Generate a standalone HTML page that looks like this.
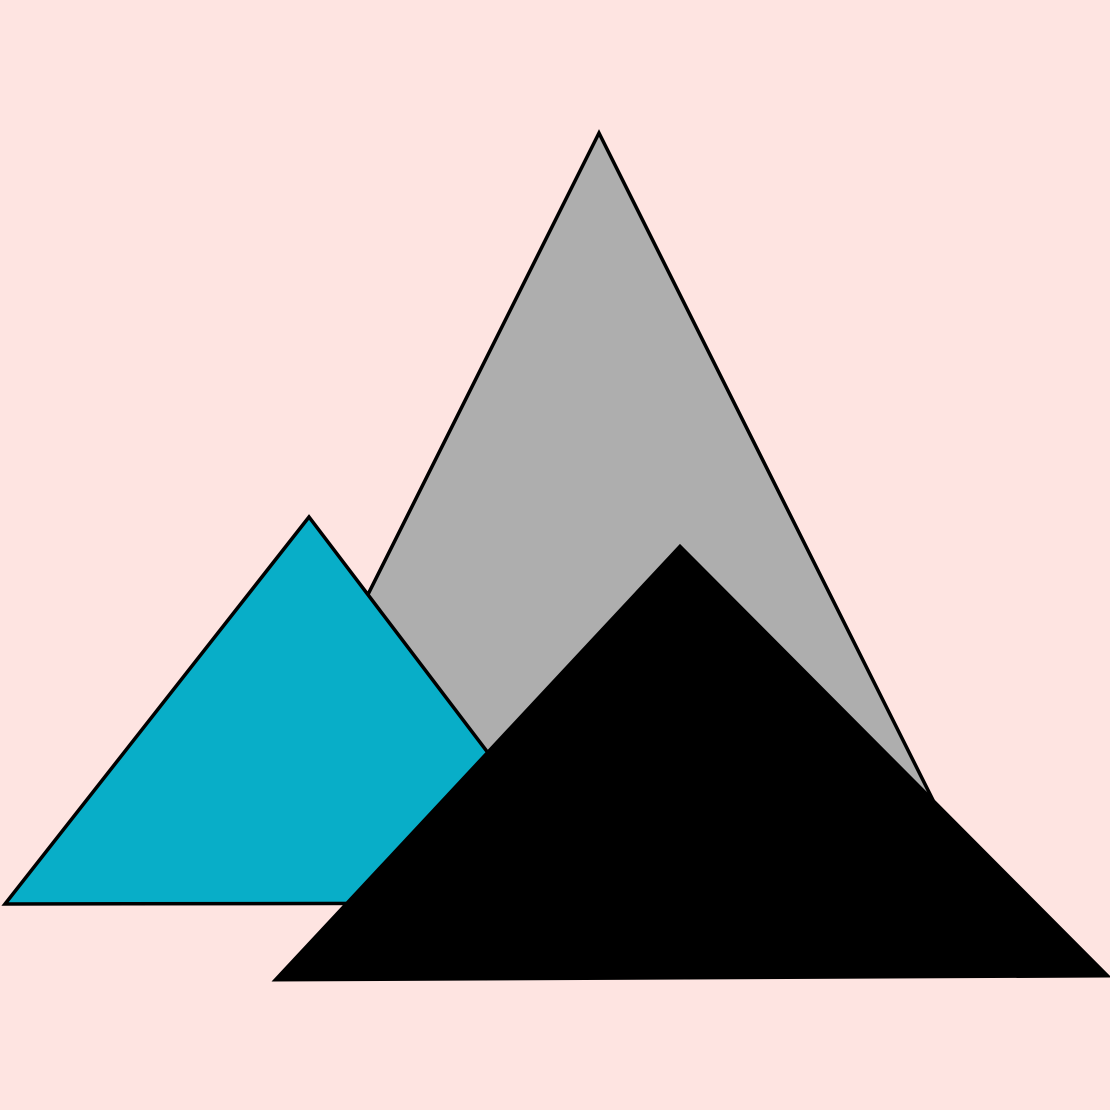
<!DOCTYPE html>
<html>
<head>
<meta charset="utf-8">
<style>
html,body{margin:0;padding:0;background:#fee4e1;}
svg{display:block;}
</style>
</head>
<body>
<svg width="1110" height="1110" viewBox="0 0 1110 1110">
  <rect x="0" y="0" width="1110" height="1110" fill="#fee4e1"/>
  <polygon points="599,133 215,900 983,900" fill="#aeaeae" stroke="#000" stroke-width="3.5" stroke-linejoin="miter"/>
  <polygon points="309,517 5,904 602,903" fill="#08aec8" stroke="#000" stroke-width="3.5"/>
  <polygon points="680,546 275,980 1108,976" fill="#000" stroke="#000" stroke-width="3"/>
</svg>
</body>
</html>
